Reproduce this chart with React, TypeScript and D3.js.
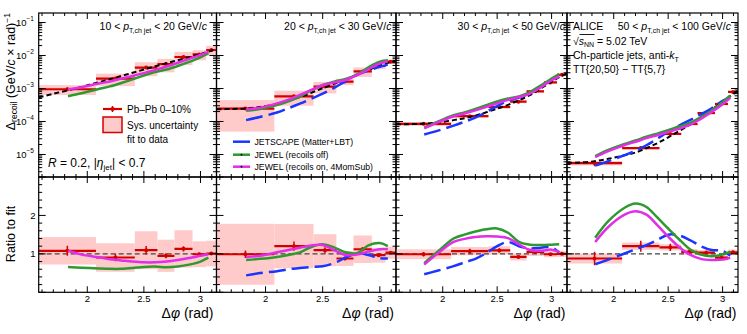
import React from "react";
import * as d3 from "d3";

// ---------------- data ----------------
const binEdges = [1.5708, 2.077, 2.42, 2.62, 2.77, 2.93, 3.05, 3.1416];
const grid = [1.5708, 1.7, 1.83, 1.95, 2.1, 2.2, 2.3, 2.4, 2.5, 2.6, 2.7, 2.8, 2.9, 3.0, 3.07, 3.1416];
const ptLow = ["10", "20", "30", "50"];
const ptHigh = ["20", "30", "50", "100"];
const xTickLabels = [2, 2.5, 3];
const logTickExps = [-5, -4, -3, -2, -1];
const ratioTickLabels = [1, 2];

// 10-20 GeV/c
const fit1 = [5.4e-4, 6.9e-4, 8.8e-4, 1.12e-3, 1.55e-3, 1.9e-3, 2.4e-3, 3.0e-3, 3.75e-3, 4.7e-3, 5.8e-3, 7.2e-3, 8.9e-3, 1.1e-2, 1.3e-2, 1.6e-2];
const data1 = [9.5e-4, 2.0e-3, 4.3e-3, 5.5e-3, 9.0e-3, 1.08e-2, 1.47e-2];
const ratio1 = [1.08, 0.905, 1.095, 0.95, 1.13, 0.99, 1.01];
const stat1 = [0.12, 0.11, 0.1, 0.07, 0.06, 0.04, 0.03];
const sys1 = [0.33, 0.41, 0.45, 0.44, 0.43, 0.34, 0.33];
const jewelOff1 = [null, null, 0.66, 0.64, 0.62, 0.61, 0.61, 0.63, 0.66, 0.67, 0.65, 0.67, 0.72, 0.8, 0.9, null];
const jewelOn1 = [null, null, 1.08, 0.98, 0.91, 0.86, 0.83, 0.8, 0.78, 0.78, 0.8, 0.84, 0.89, 0.95, 0.99, null];

// 20-30 GeV/c
const fit2 = [2.34e-4, 2.4e-4, 2.5e-4, 2.75e-4, 3.4e-4, 4.2e-4, 5.5e-4, 7.4e-4, 1.02e-3, 1.38e-3, 1.86e-3, 2.57e-3, 3.6e-3, 5.1e-3, 6.0e-3, 6.9e-3];
const data2 = [2.47e-4, 5.8e-4, 1.14e-3, 1.62e-3, 3.3e-3, 4.8e-3, 6.5e-3];
const ratio2 = [0.99, 1.2, 1.096, 0.88, 1.12, 0.965, 1.03];
const stat2 = [0.1, 0.1, 0.07, 0.05, 0.05, 0.04, 0.03];
const sys2 = [0.8, 0.48, 0.38, 0.22, 0.32, 0.2, 0.15];
const jetscape2 = [null, null, 0.44, 0.5, 0.55, 0.6, 0.63, 0.66, 0.68, 0.76, 0.9, 1.02, 0.97, 0.89, 0.88, null];
const jewelOff2 = [null, null, 0.84, 0.87, 0.92, 0.97, 1.04, 1.18, 1.25, 1.17, 1.04, 1.02, 1.22, 1.28, 1.2, null];
const jewelOn2 = [null, null, 0.92, 0.95, 1.04, 1.1, 1.16, 1.22, 1.23, 1.1, 0.97, 0.98, 1.06, 1.12, 1.12, null];

// 30-50 GeV/c
const fit3 = [8.2e-5, 8.3e-5, 8.6e-5, 9.3e-5, 1.1e-4, 1.26e-4, 1.51e-4, 1.9e-4, 2.45e-4, 3.2e-4, 4.4e-4, 6.3e-4, 1.0e-3, 1.6e-3, 2.2e-3, 2.9e-3];
const data3 = [8.5e-5, 1.45e-4, 2.75e-4, 4.0e-4, 8.2e-4, 1.53e-3, 2.6e-3];
const ratio3 = [0.99, 1.07, 1.09, 0.92, 1.05, 0.99, 1.0];
const stat3 = [0.06, 0.06, 0.05, 0.04, 0.04, 0.03, 0.03];
const sys3 = [0.13, 0.1, 0.1, 0.1, 0.1, 0.08, 0.08];
const jetscape3 = [null, null, 0.47, 0.56, 0.68, 0.78, 0.87, 1.02, 1.2, 1.31, 1.2, 1.14, 1.16, 1.17, 1.03, null];
const jewelOff3 = [null, null, 0.76, 1.05, 1.4, 1.5, 1.58, 1.64, 1.66, 1.55, 1.31, 1.24, 1.23, 1.24, 1.25, null];
const jewelOn3 = [null, null, 0.72, 1.0, 1.31, 1.39, 1.44, 1.46, 1.45, 1.41, 1.25, 1.1, 1.08, 1.11, 1.05, null];

// 50-100 GeV/c
const fit4 = [5.6e-6, 5.75e-6, 6.3e-6, 7.4e-6, 9.5e-6, 1.15e-5, 1.55e-5, 2.2e-5, 3.3e-5, 5.1e-5, 8.1e-5, 1.38e-4, 2.3e-4, 3.9e-4, 5.8e-4, 8.6e-4];
const data4 = [5.5e-6, 1.56e-5, 4.2e-5, 8.4e-5, 1.8e-4, 3.4e-4, 7.9e-4];
const ratio4 = [0.88, 1.2, 1.17, 1.05, 1.03, 0.9, 1.04];
const stat4 = [0.2, 0.12, 0.08, 0.05, 0.05, 0.04, 0.04];
const sys4 = [0.15, 0.08, 0.07, 0.07, 0.07, 0.07, 0.07];
const jetscape4 = [null, null, 0.73, 0.85, 1.01, 1.12, 1.23, 1.36, 1.5, 1.48, 1.36, 1.2, 1.1, 1.08, 0.95, null];
const jewelOff4 = [null, null, 1.42, 1.85, 2.2, 2.31, 2.22, 1.95, 1.66, 1.38, 1.12, 0.98, 0.94, 0.98, 1.06, null];
const jewelOn4 = [null, null, 1.31, 1.7, 2.02, 2.11, 2.02, 1.75, 1.45, 1.18, 0.98, 0.87, 0.84, 0.85, 0.9, null];

// ---------------- layout / style ----------------
const FONT = "'Liberation Sans', Arial, Helvetica, sans-serif";
const RED = "#d40000";
const PINK = "#ffcaca";
const BLUE = "#1a35ff";
const GREEN = "#2e9a2e";
const MAGENTA = "#e22ee6";

const PX: [number, number][] = [[38.7, 216.5], [216.5, 396], [396, 567], [567, 738]];
const TOP_T = 13, TOP_B = 177, BOT_T = 177, BOT_B = 292.3;
const LOG_MIN = Math.pow(10, -5.682), LOG_MAX = Math.pow(10, -0.712);
const titleRight = [207, 391.5, 565, 731];
const xTitleRight = [213.5, 394, 565.5, 736.5];

type Model = { vals: (number | null)[]; color: string; dash?: string };
type Panel = { fit: number[]; data: number[]; ratio: number[]; stat: number[]; sys: number[]; models: Model[] };

const panels: Panel[] = [
  { fit: fit1, data: data1, ratio: ratio1, stat: stat1, sys: sys1, models: [
    { vals: jewelOff1, color: GREEN }, { vals: jewelOn1, color: MAGENTA }] },
  { fit: fit2, data: data2, ratio: ratio2, stat: stat2, sys: sys2, models: [
    { vals: jetscape2, color: BLUE, dash: "17,6" }, { vals: jewelOff2, color: GREEN }, { vals: jewelOn2, color: MAGENTA }] },
  { fit: fit3, data: data3, ratio: ratio3, stat: stat3, sys: sys3, models: [
    { vals: jetscape3, color: BLUE, dash: "17,6" }, { vals: jewelOff3, color: GREEN }, { vals: jewelOn3, color: MAGENTA }] },
  { fit: fit4, data: data4, ratio: ratio4, stat: stat4, sys: sys4, models: [
    { vals: jetscape4, color: BLUE, dash: "17,6" }, { vals: jewelOff4, color: GREEN }, { vals: jewelOn4, color: MAGENTA }] },
];

const xMinor = d3.range(16, 32).map((v) => v / 10);
const ratioMinor = d3.range(0, 31, 2).map((v) => v / 10);
const logMinor: number[] = [];
for (let e = -6; e <= -1; e++) for (let k = 2; k <= 9; k++) {
  const v = k * Math.pow(10, e);
  if (v > LOG_MIN && v < LOG_MAX) logMinor.push(v);
}

function PanelView({ p, i }: { p: Panel; i: number }) {
  const [x0, x1] = PX[i];
  const x = d3.scaleLinear().domain([Math.PI / 2, Math.PI]).range([x0, x1]);
  const yT = d3.scaleLog().domain([LOG_MIN, LOG_MAX]).range([TOP_B, TOP_T]);
  const yB = d3.scaleLinear().domain([0, 3]).range([BOT_B, BOT_T]);
  const centers = p.ratio.map((_, j) => (binEdges[j] + binEdges[j + 1]) / 2);

  const lineT = d3.line<[number, number | null]>()
    .defined((d) => d[1] != null)
    .x((d) => x(d[0]))
    .y((d) => yT(d[1] as number))
    .curve(d3.curveCatmullRom.alpha(0.5));
  const lineB = d3.line<[number, number | null]>()
    .defined((d) => d[1] != null)
    .x((d) => x(d[0]))
    .y((d) => yB(d[1] as number))
    .curve(d3.curveCatmullRom.alpha(0.5));

  const fitPts = grid.map((g, k) => [g, p.fit[k]] as [number, number]);
  const clipT = `clipT${i}`, clipB = `clipB${i}`;

  const ticks: JSX.Element[] = [];
  const tk = (key: string, xa: number, ya: number, xb: number, yb: number) =>
    ticks.push(<line key={key} x1={xa} y1={ya} x2={xb} y2={yb} stroke="#000" strokeWidth={1} />);
  // x ticks on top/bottom of both pads
  [TOP_T, TOP_B, BOT_T, BOT_B].forEach((ye, n) => {
    const dir = n % 2 === 0 ? 1 : -1;
    xMinor.forEach((v) => {
      const major = Math.abs(v * 2 - Math.round(v * 2)) < 1e-6;
      const len = major ? 6 : 3;
      tk(`x${n}-${v}`, x(v), ye, x(v), ye + dir * len);
    });
  });
  // y ticks left and right
  [x0, x1].forEach((xe, n) => {
    const dir = n === 0 ? 1 : -1;
    logTickExps.forEach((e) => tk(`lM${n}${e}`, xe, yT(Math.pow(10, e)), xe + dir * 7, yT(Math.pow(10, e))));
    logMinor.forEach((v) => tk(`lm${n}${v}`, xe, yT(v), xe + dir * 3.5, yT(v)));
    ratioMinor.forEach((v) => {
      const major = Math.abs(v - Math.round(v)) < 1e-6;
      tk(`r${n}${v}`, xe, yB(v), xe + dir * (major ? 7 : 3.5), yB(v));
    });
  });

  return (
    <g>
      <defs>
        <clipPath id={clipT}><rect x={x0} y={TOP_T} width={x1 - x0} height={TOP_B - TOP_T} /></clipPath>
        <clipPath id={clipB}><rect x={x0} y={BOT_T} width={x1 - x0} height={BOT_B - BOT_T} /></clipPath>
      </defs>
      {/* top pad */}
      <g clipPath={`url(#${clipT})`}>
        {p.data.map((d, j) => (
          <rect key={`st${j}`} x={x(binEdges[j])} width={x(binEdges[j + 1]) - x(binEdges[j])}
            y={yT(d * (1 + p.sys[j]))} height={yT(d * (1 - p.sys[j])) - yT(d * (1 + p.sys[j]))} fill={PINK} />
        ))}
        {p.data.map((d, j) => (
          <g key={`dt${j}`}>
            <line x1={x(binEdges[j])} x2={x(binEdges[j + 1])} y1={yT(d)} y2={yT(d)} stroke={RED} strokeWidth={2.2} />
            <line x1={x(centers[j])} x2={x(centers[j])} y1={yT(d * (1 + p.stat[j]))} y2={yT(d * (1 - p.stat[j]))} stroke={RED} strokeWidth={1.5} />
            <circle cx={x(centers[j])} cy={yT(d)} r={2} fill={RED} />
          </g>
        ))}
        <path d={lineT(fitPts) || ""} fill="none" stroke="#000" strokeWidth={2} strokeDasharray="5,3" />
        {p.models.map((m, k) => (
          <path key={`mt${k}`} d={lineT(grid.map((g, q) => [g, m.vals[q] == null ? null : (m.vals[q] as number) * p.fit[q]] as [number, number | null])) || ""}
            fill="none" stroke={m.color} strokeWidth={2.5} strokeDasharray={m.dash} />
        ))}
      </g>
      {/* bottom pad */}
      <g clipPath={`url(#${clipB})`}>
        {p.ratio.map((r, j) => (
          <rect key={`sb${j}`} x={x(binEdges[j])} width={x(binEdges[j + 1]) - x(binEdges[j])}
            y={yB(r * (1 + p.sys[j]))} height={yB(r * (1 - p.sys[j])) - yB(r * (1 + p.sys[j]))} fill={PINK} />
        ))}
        <line x1={x0} x2={x1} y1={yB(1)} y2={yB(1)} stroke="#444" strokeWidth={1.3} strokeDasharray="5,3" />
        {p.ratio.map((r, j) => (
          <g key={`db${j}`}>
            <line x1={x(binEdges[j])} x2={x(binEdges[j + 1])} y1={yB(r)} y2={yB(r)} stroke={RED} strokeWidth={2.2} />
            <line x1={x(centers[j])} x2={x(centers[j])} y1={yB(r * (1 + p.stat[j]))} y2={yB(r * (1 - p.stat[j]))} stroke={RED} strokeWidth={1.5} />
            <circle cx={x(centers[j])} cy={yB(r)} r={2} fill={RED} />
          </g>
        ))}
        {p.models.map((m, k) => (
          <path key={`mb${k}`} d={lineB(grid.map((g, q) => [g, m.vals[q]] as [number, number | null])) || ""}
            fill="none" stroke={m.color} strokeWidth={2.5} strokeDasharray={m.dash} />
        ))}
      </g>
      {ticks}
      <rect x={x0} y={TOP_T} width={x1 - x0} height={TOP_B - TOP_T} fill="none" stroke="#000" strokeWidth={1.2} />
      <rect x={x0} y={BOT_T} width={x1 - x0} height={BOT_B - BOT_T} fill="none" stroke="#000" strokeWidth={1.2} />
      {xTickLabels.map((v) => (
        <text key={`xl${v}`} x={x(v)} y={302} fontSize={9.5} textAnchor="middle">{v}</text>
      ))}
      <text x={xTitleRight[i]} y={318} fontSize={14} textAnchor="end">
        Δ<tspan fontStyle="italic">φ</tspan> (rad)
      </text>
      <text x={titleRight[i]} y={30} fontSize={10.5} textAnchor="end">
        {ptLow[i]} &lt; <tspan fontStyle="italic">p</tspan>
        <tspan fontSize={7} dy={3}>T,ch jet</tspan>
        <tspan dy={-3}> &lt; {ptHigh[i]} GeV/</tspan>
        <tspan fontStyle="italic">c</tspan>
      </text>
      {i === 0 && (
        <g>
          {logTickExps.map((e) => (
            <text key={`yl${e}`} x={34} y={yT(Math.pow(10, e)) + 3.4} fontSize={9.5} textAnchor="end">
              10<tspan fontSize={6.5} dy={-4.5}>{e === -1 ? "−1" : `−${-e}`}</tspan>
            </text>
          ))}
          {ratioTickLabels.map((v) => (
            <text key={`rl${v}`} x={35.5} y={yB(v) + 3.4} fontSize={9.5} textAnchor="end">{v}</text>
          ))}
        </g>
      )}
    </g>
  );
}

export default function App() {
  const legX = 103, legX2 = 122;
  return (
    <svg width={747} height={334} style={{ position: "absolute", left: 0, top: 0, background: "#fff" }} fontFamily={FONT}>
      {panels.map((p, i) => <PanelView key={i} p={p} i={i} />)}

      {/* axis titles */}
      <text transform="translate(14.5,13) rotate(-90)" fontSize={12.5} textAnchor="end">
        Δ<tspan fontSize={8.5} dy={2.5}>recoil</tspan>
        <tspan dy={-2.5}> (GeV/</tspan><tspan fontStyle="italic">c</tspan> × rad)
        <tspan fontSize={8.5} dy={-5}>−1</tspan>
      </text>
      <text transform="translate(14.5,234) rotate(-90)" fontSize={12.5} textAnchor="middle">Ratio to fit</text>

      {/* legend panel 1 */}
      <line x1={legX} x2={legX2} y1={109} y2={109} stroke={RED} strokeWidth={2.2} />
      <line x1={(legX + legX2) / 2} x2={(legX + legX2) / 2} y1={106} y2={112} stroke={RED} strokeWidth={1.5} />
      <circle cx={(legX + legX2) / 2} cy={109} r={2} fill={RED} />
      <text x={127} y={112.5} fontSize={10}>Pb–Pb 0–10%</text>
      <rect x={legX} y={117} width={legX2 - legX} height={15.5} fill={PINK} stroke={RED} strokeWidth={1.5} />
      <text x={127} y={129} fontSize={10}>Sys. uncertainty</text>
      <text x={127} y={142.5} fontSize={10}>fit to data</text>
      <text x={48} y={167} fontSize={12}>
        <tspan fontStyle="italic">R</tspan> = 0.2, |<tspan fontStyle="italic">η</tspan>
        <tspan fontSize={8} dy={3}>jet</tspan><tspan dy={-3}>| &lt; 0.7</tspan>
      </text>

      {/* legend panel 2 */}
      {[
        { y: 141.7, c: BLUE, dash: "17,6", t: "JETSCAPE (Matter+LBT)" },
        { y: 154.7, c: GREEN, dash: undefined, t: "JEWEL (recoils off)" },
        { y: 166.7, c: MAGENTA, dash: undefined, t: "JEWEL (recoils on, 4MomSub)" },
      ].map((l, k) => (
        <g key={`lg${k}`}>
          <line x1={233} x2={250} y1={l.y} y2={l.y} stroke={l.c} strokeWidth={2.5} strokeDasharray={l.dash} />
          {k > 0 && <circle cx={241.5} cy={l.y} r={0.9} fill="#000" />}
          <text x={254.5} y={l.y + 3.2} fontSize={8.7}>{l.t}</text>
        </g>
      ))}

      {/* panel 4 labels */}
      <text x={573} y={29.5} fontSize={10.5}>ALICE</text>
      <text x={573} y={44.5} fontSize={10.5}>
        √<tspan fontStyle="italic">s</tspan><tspan fontSize={7} dy={2.5}>NN</tspan><tspan dy={-2.5}> = 5.02 TeV</tspan>
      </text>
      <line x1={579.5} x2={594.5} y1={34.5} y2={34.5} stroke="#000" strokeWidth={0.9} />
      <text x={573} y={59} fontSize={10.5}>
        Ch-particle jets, anti-<tspan fontStyle="italic">k</tspan><tspan fontSize={7} dy={2.5}>T</tspan>
      </text>
      <text x={573} y={72.5} fontSize={10.5}>TT{"{20,50}"} − TT{"{5,7}"}</text>
    </svg>
  );
}
